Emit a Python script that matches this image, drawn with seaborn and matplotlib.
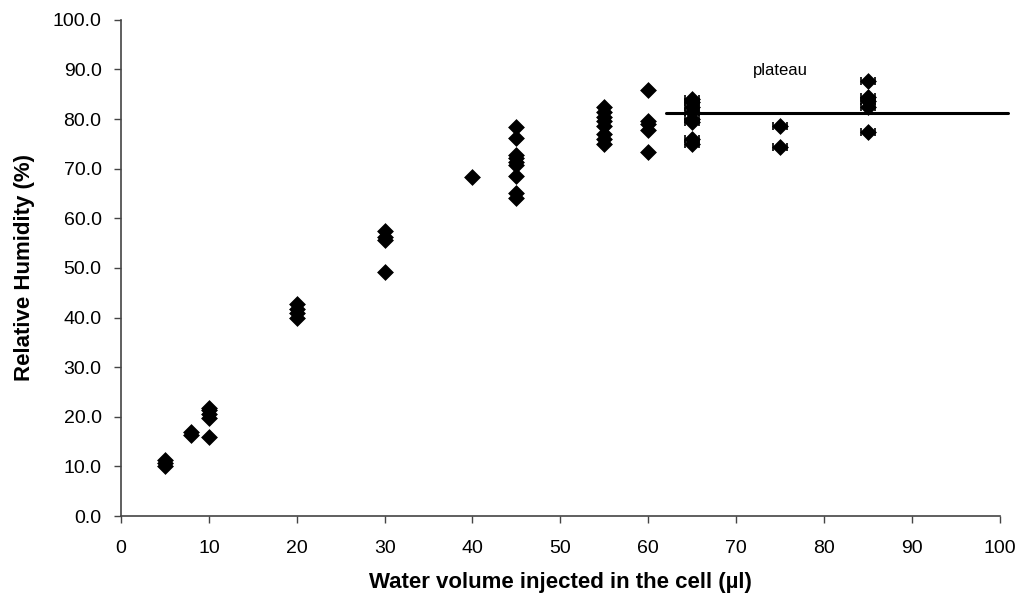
import matplotlib
matplotlib.use("Agg")
import matplotlib.pyplot as plt
import seaborn as sns
import pandas as pd
import numpy as np

# ---- data ----
x_vol = [5, 5, 5,
         8, 8,
         10, 10, 10, 10, 10,
         20, 20, 20, 20,
         30, 30, 30, 30,
         40,
         45, 45, 45, 45, 45, 45, 45, 45, 45,
         55, 55, 55, 55, 55, 55, 55, 55,
         60, 60, 60, 60, 60,
         65, 65, 65, 65, 65, 65, 65, 65,
         75, 75,
         85, 85, 85, 85, 85]
rh = [10.0, 10.6, 11.2,
      16.3, 17.0,
      15.9, 19.8, 20.6, 21.4, 21.8,
      39.9, 40.9, 41.7, 42.7,
      49.2, 55.6, 56.3, 57.5,
      68.3,
      64.1, 65.1, 68.5, 70.8, 71.4, 72.2, 72.8, 76.2, 78.4,
      75.0, 76.0, 77.0, 78.5, 79.5, 80.5, 81.5, 82.5,
      73.4, 77.8, 79.0, 79.6, 85.9,
      75.0, 76.0, 79.3, 80.0, 81.5, 82.5, 83.5, 84.0,
      74.4, 78.6,
      77.4, 82.5, 83.7, 84.5, 87.7]
x_err = [0.0] * 41 + [0.8] * 8 + [0.8] * 2 + [0.8] * 5

plateau_x = [62, 101]
plateau_y = [81.2, 81.2]
plateau_label = "plateau"
plateau_label_pos = (75.0, 89.8)

x_ticks = list(range(0, 101, 10))
y_ticks = [i * 10.0 for i in range(11)]

df = pd.DataFrame({"x": x_vol, "y": rh, "xerr": x_err})

# ---- plot ----
sns.set_style("ticks")
plt.rcParams["font.family"] = ["Liberation Sans", "DejaVu Sans"]
plt.rcParams["text.color"] = "black"
plt.rcParams["axes.labelcolor"] = "black"
plt.rcParams["xtick.labelcolor"] = "black"
plt.rcParams["ytick.labelcolor"] = "black"

fig = plt.figure(figsize=(10.17, 5.98), dpi=100)
ax = fig.add_axes([0.119, 0.137, 0.864, 0.830])

err = df[df["xerr"] > 0]
ax.errorbar(err["x"], err["y"], xerr=err["xerr"], fmt="none",
            ecolor="black", elinewidth=1.2, capsize=3, capthick=1.2, zorder=2)
sns.scatterplot(data=df, x="x", y="y", marker="D", s=65, color="black",
                edgecolor="black", linewidth=0.5, ax=ax, zorder=3)

ax.plot(plateau_x, plateau_y, color="black", linewidth=2.2, zorder=4,
        clip_on=False)
ax.text(plateau_label_pos[0], plateau_label_pos[1], plateau_label,
        ha="center", va="center", fontsize=12, color="black")

ax.set_xlim(0, 100)
ax.set_ylim(0, 100)
ax.set_xticks(x_ticks)
ax.set_yticks(y_ticks)
ax.set_yticklabels([f"{v:.1f}" for v in y_ticks])
ax.tick_params(axis="both", labelsize=14, length=5, width=1, color="#444444",
               labelcolor="black", direction="out")
ax.tick_params(axis="x", pad=12)
ax.tick_params(axis="y", pad=9)
ax.set_xlabel("Water volume injected in the cell (µl)", fontsize=16,
              fontweight="bold", labelpad=11, color="black")
ax.set_ylabel("Relative Humidity (%)", fontsize=16, fontweight="bold",
              labelpad=13, color="black")
sns.despine(ax=ax)
for s in ["left", "bottom"]:
    ax.spines[s].set_color("#444444")
    ax.spines[s].set_linewidth(1.2)

fig.savefig("out.png", dpi=100)
